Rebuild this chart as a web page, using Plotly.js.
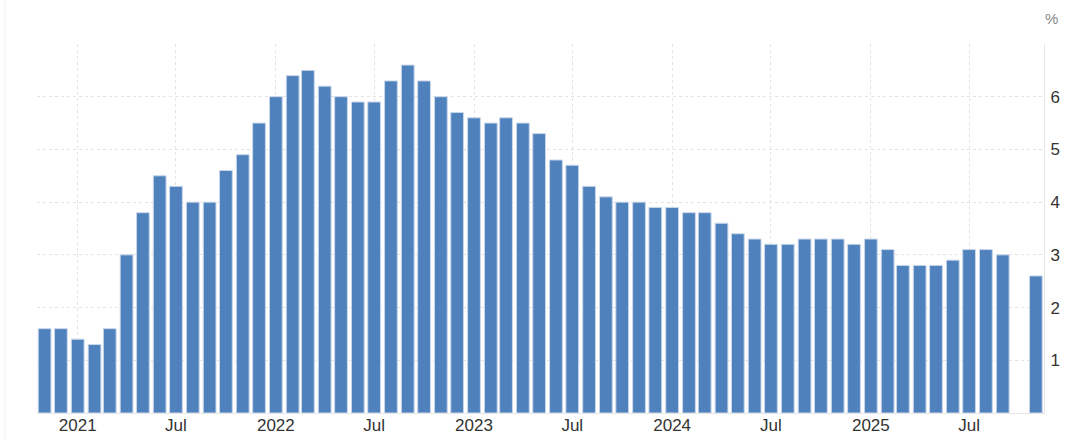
<!DOCTYPE html>
<html>
<head>
<meta charset="utf-8">
<script src="https://cdn.plot.ly/plotly-3.0.1.min.js"></script>
<style>
  html, body { margin: 0; padding: 0; background: #ffffff; }
  #chart { width: 1069px; height: 440px; }
</style>
</head>
<body>
<div id="chart"></div>
<script>
// Months (first day of month); October 2025 has no value
const months = [
  '2020-11-01','2020-12-01',
  '2021-01-01','2021-02-01','2021-03-01','2021-04-01','2021-05-01','2021-06-01',
  '2021-07-01','2021-08-01','2021-09-01','2021-10-01','2021-11-01','2021-12-01',
  '2022-01-01','2022-02-01','2022-03-01','2022-04-01','2022-05-01','2022-06-01',
  '2022-07-01','2022-08-01','2022-09-01','2022-10-01','2022-11-01','2022-12-01',
  '2023-01-01','2023-02-01','2023-03-01','2023-04-01','2023-05-01','2023-06-01',
  '2023-07-01','2023-08-01','2023-09-01','2023-10-01','2023-11-01','2023-12-01',
  '2024-01-01','2024-02-01','2024-03-01','2024-04-01','2024-05-01','2024-06-01',
  '2024-07-01','2024-08-01','2024-09-01','2024-10-01','2024-11-01','2024-12-01',
  '2025-01-01','2025-02-01','2025-03-01','2025-04-01','2025-05-01','2025-06-01',
  '2025-07-01','2025-08-01','2025-09-01','2025-11-01'
];
const values = [
  1.6, 1.6,
  1.4, 1.3, 1.6, 3.0, 3.8, 4.5,
  4.3, 4.0, 4.0, 4.6, 4.9, 5.5,
  6.0, 6.4, 6.5, 6.2, 6.0, 5.9,
  5.9, 6.3, 6.6, 6.3, 6.0, 5.7,
  5.6, 5.5, 5.6, 5.5, 5.3, 4.8,
  4.7, 4.3, 4.1, 4.0, 4.0, 3.9,
  3.9, 3.8, 3.8, 3.6, 3.4, 3.3,
  3.2, 3.2, 3.3, 3.3, 3.3, 3.2,
  3.3, 3.1, 2.8, 2.8, 2.8, 2.9,
  3.1, 3.1, 3.0, 2.6
];
const xTickVals = ['2021-01-01','2021-07-01','2022-01-01','2022-07-01','2023-01-01','2023-07-01',
                   '2024-01-01','2024-07-01','2025-01-01','2025-07-01'];
const xTickText = ['2021','Jul','2022','Jul','2023','Jul','2024','Jul','2025','Jul'];
const yTickVals = [0, 1, 2, 3, 4, 5, 6, 7];
const yTickText = ['', '1', '2', '3', '4', '5', '6', ''];
const unitLabel = '%';

const DAY = 86400000;

const trace = {
  type: 'bar',
  x: months,
  y: values,
  width: months.map(() => 23.5 * DAY),
  marker: { color: '#4f81bd', line: { color: '#c9d7ea', width: 1 } },
  hoverinfo: 'x+y'
};

const layout = {
  width: 1069,
  height: 440,
  margin: { l: 37, r: 25, t: 44, b: 27 },
  paper_bgcolor: '#ffffff',
  plot_bgcolor: '#ffffff',
  showlegend: false,
  font: { family: 'Liberation Sans, Arial, sans-serif', size: 17, color: '#333333' },
  xaxis: {
    type: 'date',
    range: ['2020-10-18', '2025-11-16'],
    tickmode: 'array',
    tickvals: xTickVals,
    ticktext: xTickText,
    showgrid: true,
    gridcolor: '#e3e3e3',
    griddash: 'dot',
    gridwidth: 1,
    ticks: '',
    ticklabelstandoff: -3,
    showline: true,
    linecolor: '#e6e6e6',
    linewidth: 1,
    zeroline: false,
    tickfont: { size: 17, color: '#333333' },
    fixedrange: true
  },
  yaxis: {
    side: 'right',
    range: [0, 7],
    tickmode: 'array',
    tickvals: yTickVals,
    ticktext: yTickText,
    showgrid: true,
    gridcolor: '#e3e3e3',
    griddash: 'dot',
    gridwidth: 1,
    ticks: '',
    ticklabelstandoff: 2,
    showline: true,
    linecolor: '#e6e6e6',
    linewidth: 1,
    zeroline: false,
    tickfont: { size: 17, color: '#333333' },
    fixedrange: true
  },
  shapes: [
    { type: 'line', xref: 'paper', yref: 'paper', x0: -0.0318, x1: -0.0318, y0: -0.08, y1: 1.12,
      line: { color: '#f0f0f0', width: 1 } }
  ],
  annotations: [
    { text: unitLabel, xref: 'paper', yref: 'paper', x: 0.999, y: 1.07, xanchor: 'left', yanchor: 'middle',
      showarrow: false, font: { size: 15, color: '#888888' } }
  ],
  bargap: 0
};

Plotly.newPlot('chart', [trace], layout, { displayModeBar: false, staticPlot: true });
</script>
</body>
</html>
